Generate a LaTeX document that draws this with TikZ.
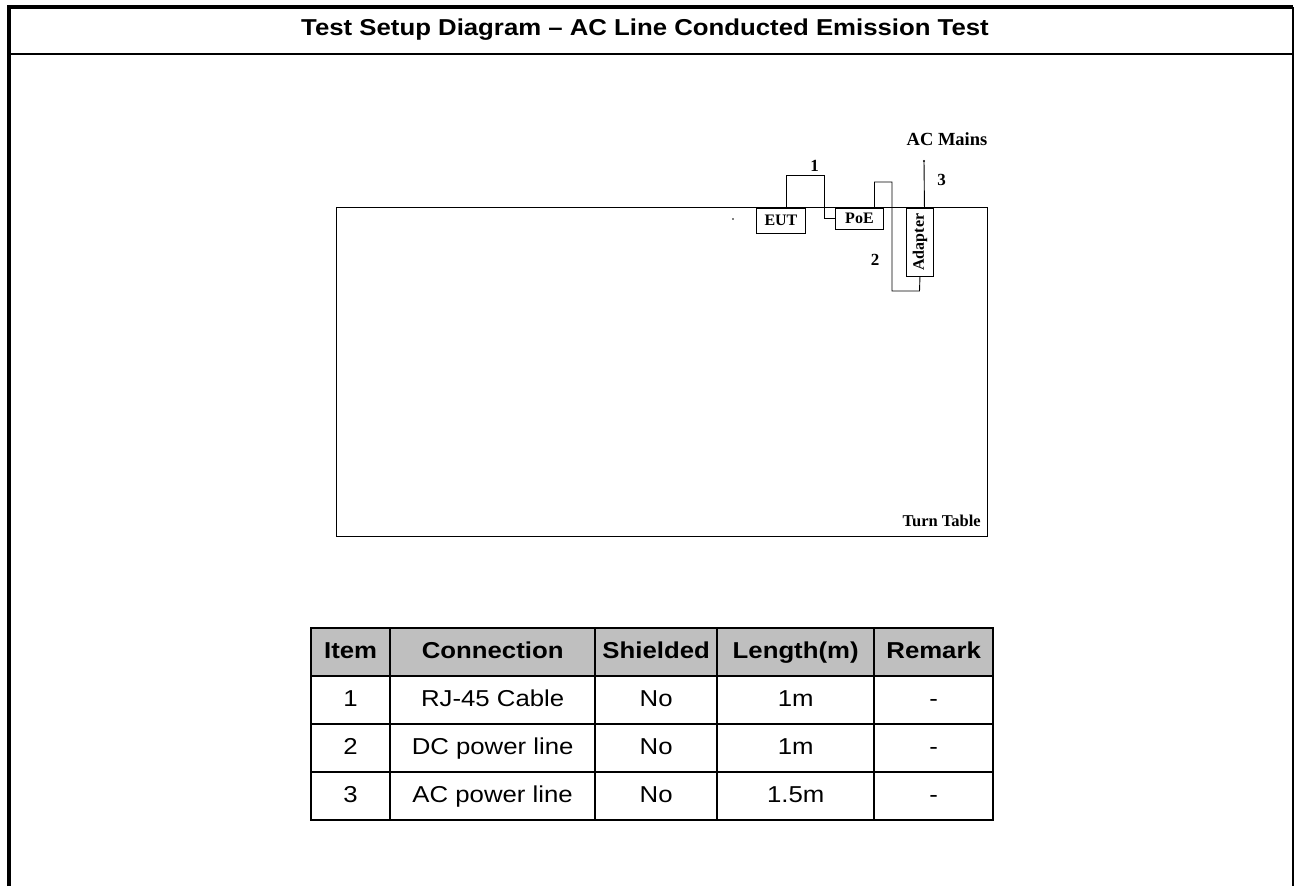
\documentclass[tikz,border=0pt]{standalone}
\usepackage{fontspec}
\usepackage{graphicx}
\setmainfont{Liberation Serif}
\newfontfamily\headfont[FakeStretch=1.12]{Liberation Sans}
\usetikzlibrary{positioning}

\begin{document}
\begin{tikzpicture}[x=1pt,y=-1pt]
\tikzstyle{box} = [draw,line width=0.9pt,inner sep=0pt,anchor=north west,font=\fontsize{16}{16}\selectfont\bfseries]
\tikzstyle{cable} = [line width=0.9pt]
\tikzstyle{lbl} = [inner sep=0pt,font=\fontsize{17}{17}\selectfont\bfseries]
\tikzstyle{cell} = [draw,line width=2.3pt,inner sep=0pt,minimum height=48pt,text height=16.5pt,text depth=4.5pt,anchor=north west,font=\headfont\fontsize{23}{23}\selectfont]
\tikzstyle{headcell} = [cell,fill=black!25,font=\headfont\bfseries\fontsize{23}{23}\selectfont]

\useasboundingbox (0,0) rectangle (1295,886);

% frame and title
\draw[line width=3.5pt] (9,886) -- (9,7) -- (1293,7);
\draw[line width=2.5pt] (1293,7) -- (1293,886);
\draw[line width=2pt] (9,54.3) -- (1293,54.3);
\node[font=\headfont\bfseries\fontsize{23}{23}\selectfont] (title) at (645,29.5) {Test Setup Diagram – AC Line Conducted Emission Test};

% turn table
\node[draw,line width=1.2pt,inner sep=0pt,minimum width=651pt,minimum height=329pt,anchor=north west] (turntable) at (336,207) {};
\node[lbl,anchor=base east,font=\fontsize{16.5}{16.5}\selectfont\bfseries] (ttlabel) at (981,526) {Turn Table};
\fill (733,219) circle (0.8);

% equipment
\node[box,minimum width=49pt,minimum height=25pt] (eut) at (756,207.5) {EUT};
\node[box,minimum width=48pt,minimum height=21.5pt] (poe) at (835,207.5) {PoE};
\node[box,minimum width=27pt,minimum height=68.5pt] (adapter) at (906,207.5) {\rotatebox{90}{Adapter}};

% cables
\coordinate (k1) at (824,175);
\coordinate (k2) at (892,182);
\coordinate (k3) at (919.5,291);
\coordinate (mains) at (924,161);
\draw[cable] ([xshift=5.5pt]eut.north) |- (k1) |- (poe.west);
\draw[cable] ([xshift=15pt]poe.north) |- (k2) |- (k3) -- (adapter.south);
\draw[cable] ([xshift=4.5pt]adapter.north) -- (mains);
\fill (mains) circle (1.2);

\node[lbl] (n1) at (814.5,165.5) {1};
\node[lbl] (n2) at (875,260) {2};
\node[lbl] (n3) at (941.5,179.5) {3};
\node[lbl,font=\fontsize{18.5}{18.5}\selectfont\bfseries] (acmains) at (947,139) {AC Mains};

% table of cables
\node[headcell,minimum width=79pt] (hItem) at (310,627) {Item};
\node[headcell,minimum width=205pt] (hConn) at (389,627) {Connection};
\node[headcell,minimum width=122pt] (hShield) at (594,627) {Shielded};
\node[headcell,minimum width=157pt] (hLen) at (716,627) {Length(m)};
\node[headcell,minimum width=119pt] (hRem) at (873,627) {Remark};
\foreach \n/\conn/\len [count=\r] in {1/RJ-45 Cable/1m,2/DC power line/1m,3/AC power line/1.5m}{
  \node[cell,minimum width=79pt] (item\r) at (310,{627+48*\r}) {\n};
  \node[cell,minimum width=205pt] (conn\r) at (389,{627+48*\r}) {\conn};
  \node[cell,minimum width=122pt] (shield\r) at (594,{627+48*\r}) {No};
  \node[cell,minimum width=157pt] (len\r) at (716,{627+48*\r}) {\len};
  \node[cell,minimum width=119pt] (rem\r) at (873,{627+48*\r}) {-};
}
\end{tikzpicture}
\end{document}
